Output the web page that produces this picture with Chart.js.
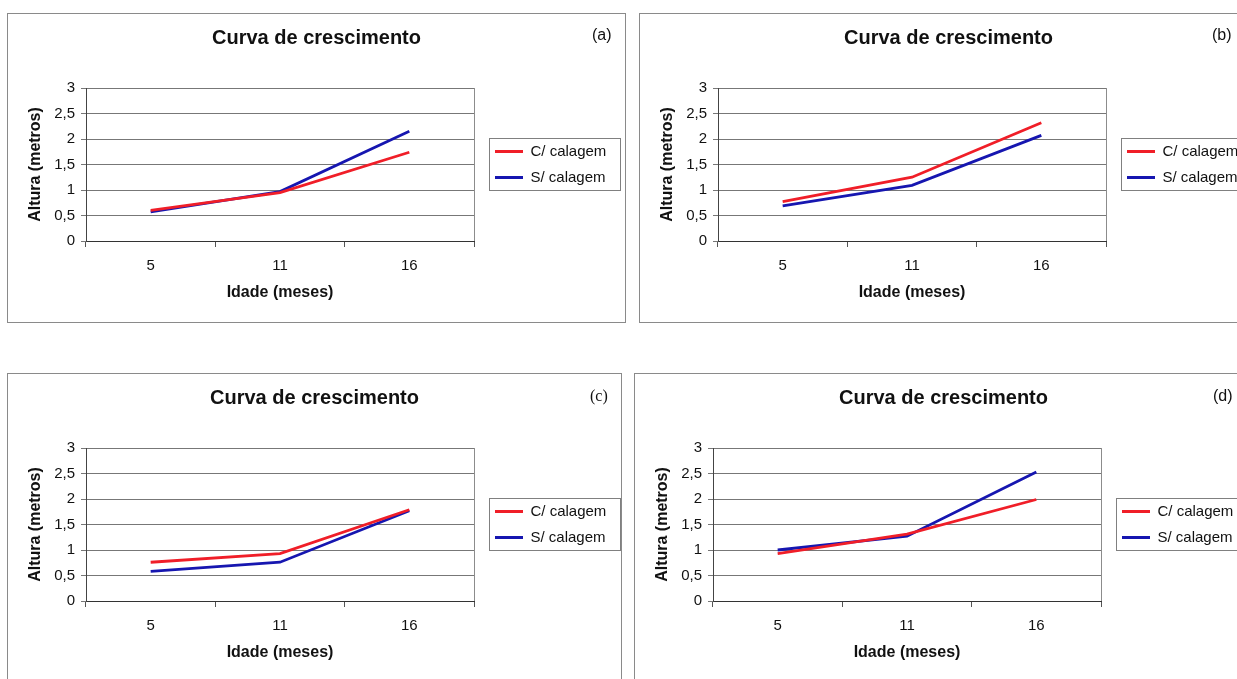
<!DOCTYPE html>
<html>
<head>
<meta charset="utf-8">
<script src="https://cdn.jsdelivr.net/npm/chart.js@4.4.1/dist/chart.umd.min.js"></script>
<style>
body { margin: 0; width: 1237px; height: 679px; overflow: hidden; background: #fff; position: relative; font-family: "Liberation Sans", Arial, sans-serif; }
.panel { position: absolute; border: 1px solid #8a8a8a; }
.panel canvas { display: block; }
.tag { position: absolute; font-size: 16px; line-height: 18px; color: #111; }
</style>
</head>
<body>
<div class="panel" style="left:7px;top:13px"><canvas id="chartA" width="617" height="308"></canvas></div>
<div class="panel" style="left:639px;top:13px"><canvas id="chartB" width="617" height="308"></canvas></div>
<div class="panel" style="left:7px;top:373px"><canvas id="chartC" width="613" height="308"></canvas></div>
<div class="panel" style="left:634px;top:373px"><canvas id="chartD" width="617" height="308"></canvas></div>
<div class="tag" style="left:592px;top:26px">(a)</div>
<div class="tag" style="left:1212px;top:26px">(b)</div>
<div class="tag" style="left:590px;top:387px;font-family:'Liberation Serif',serif">(c)</div>
<div class="tag" style="left:1213px;top:387px">(d)</div>
<script>
// idade em meses
const idades = ['5', '11', '16'];
const serieNomes = ['C/ calagem', 'S/ calagem'];

const comCalagemA = [0.60, 0.95, 1.74];
const semCalagemA = [0.57, 0.97, 2.15];
const comCalagemB = [0.77, 1.25, 2.32];
const semCalagemB = [0.69, 1.09, 2.07];
const comCalagemC = [0.76, 0.93, 1.79];
const semCalagemC = [0.58, 0.76, 1.77];
const comCalagemD = [0.93, 1.31, 1.99];
const semCalagemD = [1.00, 1.27, 2.53];

const corCom = '#f01e28';
const corSem = '#1616b0';
const fonte = '"Liberation Sans", Arial, sans-serif';
const plotRight = 466;

Chart.defaults.font.family = fonte;

function makeChart(id, comCal, semCal) {
    const canvas = document.getElementById(id);
    const legendWidth = canvas.width - plotRight;

    // legend width, plot right border and the box round the legend
    const legendFrame = {
        id: 'legendFrame',
        beforeInit(chart) {
            const lg = chart.legend;
            const fit = lg.fit;
            lg.fit = function () {
                fit.call(this);
                this.width = legendWidth;
            };
        },
        afterLayout(chart) {
            chart.legend.left = chart.chartArea.right + 10;
        },
        afterDraw(chart) {
            const ctx = chart.ctx;
            const area = chart.chartArea;
            const hb = chart.legend.legendHitBoxes;
            ctx.save();
            ctx.lineWidth = 1;
            ctx.strokeStyle = '#8c8c8c';
            ctx.beginPath();
            ctx.moveTo(Math.round(area.right) + 0.5, area.top);
            ctx.lineTo(Math.round(area.right) + 0.5, area.bottom);
            ctx.stroke();
            const last = hb[hb.length - 1];
            const x0 = Math.round(hb[0].left - 6) + 0.5;
            const y0 = Math.round(hb[0].top - 6) + 0.5;
            const y1 = Math.round(last.top + last.height + 5) + 0.5;
            ctx.strokeStyle = '#808080';
            ctx.strokeRect(x0, y0, 131, y1 - y0);
            ctx.restore();
        }
    };

    return new Chart(canvas, {
        type: 'line',
        data: {
            labels: idades,
            datasets: [{
                label: serieNomes[0],
                data: comCal,
                borderColor: corCom,
                backgroundColor: corCom,
                borderWidth: 2.8,
                pointRadius: 0,
                tension: 0
            }, {
                label: serieNomes[1],
                data: semCal,
                borderColor: corSem,
                backgroundColor: corSem,
                borderWidth: 2.8,
                pointRadius: 0,
                tension: 0
            }]
        },
        options: {
            responsive: false,
            animation: false,
            devicePixelRatio: 1,
            layout: { padding: 0 },
            plugins: {
                title: {
                    display: true,
                    text: 'Curva de crescimento',
                    color: '#111',
                    font: { size: 20, weight: 'bold' },
                    padding: { top: 12, bottom: 38 }
                },
                legend: {
                    position: 'right',
                    fullSize: false,
                    labels: {
                        boxWidth: 28,
                        boxHeight: 3,
                        padding: 11,
                        color: '#111',
                        font: { size: 15 },
                        generateLabels(chart) {
                            return Chart.defaults.plugins.legend.labels.generateLabels(chart)
                                .map(item => Object.assign(item, { lineWidth: 0 }));
                        }
                    }
                },
                tooltip: { enabled: false }
            },
            scales: {
                x: {
                    offset: true,
                    grid: { offset: true, drawOnChartArea: false, tickLength: 6, color: '#555' },
                    border: { color: '#333' },
                    ticks: { color: '#111', font: { size: 15 }, padding: 10 },
                    title: {
                        display: true,
                        text: 'Idade (meses)',
                        color: '#111',
                        font: { size: 16, weight: 'bold' },
                        padding: { top: 0, bottom: 20 }
                    },
                    afterFit(scale) { scale.height = 81; }
                },
                y: {
                    min: 0,
                    max: 3,
                    ticks: {
                        stepSize: 0.5,
                        color: '#111',
                        font: { size: 15 },
                        padding: 6,
                        callback: v => String(v).replace('.', ',')
                    },
                    grid: { color: '#777', tickLength: 5 },
                    border: { color: '#444' },
                    title: {
                        display: true,
                        text: 'Altura (metros)',
                        color: '#111',
                        font: { size: 16, weight: 'bold' },
                        padding: { top: 18, bottom: 0 }
                    },
                    afterFit(scale) { scale.width = 78; }
                }
            }
        },
        plugins: [legendFrame]
    });
}

makeChart('chartA', comCalagemA, semCalagemA);
makeChart('chartB', comCalagemB, semCalagemB);
makeChart('chartC', comCalagemC, semCalagemC);
makeChart('chartD', comCalagemD, semCalagemD);
</script>
</body>
</html>
